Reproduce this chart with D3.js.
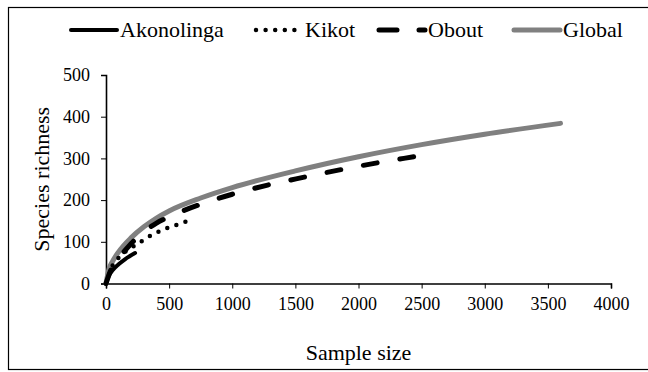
<!DOCTYPE html>
<html>
<head>
<meta charset="utf-8">
<script src="https://cdn.jsdelivr.net/npm/d3@7"></script>
<style>
  body { margin: 0; background: #fff; }
  svg text { font-family: "Liberation Serif", "Times New Roman", serif; fill: #000; }
  .axis path, .axis line { stroke: #000; }
</style>
</head>
<body>
<svg class="chart" width="648" height="372"></svg>
<script>
// values (sample size, species richness)
const akonolinga = [[0, 0], [25, 20], [50, 31], [100, 46], [150, 58], [230, 73]];
const kikot = [[0, 0], [50, 42], [100, 62], [200, 86], [264, 98], [343, 113], [422, 125], [494, 134], [581, 143], [665, 152]];
const obout = [[0, 0], [50, 40], [100, 60], [200, 96], [300, 124], [400, 145], [500, 160], [750, 190], [1000, 214],
    [1280, 236], [1570, 255], [1860, 273], [2160, 290], [2460, 305], [2560, 310]];
const global = [[0, 0], [25, 36], [50, 52], [100, 76], [200, 110], [300, 136], [400, 157], [500, 174], [750, 205],
    [1000, 230], [1500, 270], [2000, 304], [2500, 333], [3000, 358], [3600, 384]];

const seriesNames = ['Akonolinga', 'Kikot', 'Obout', 'Global'];
const xTicks = [0, 500, 1000, 1500, 2000, 2500, 3000, 3500, 4000];
const yTicks = [0, 100, 200, 300, 400, 500];

function makeChart() {
    var svg = d3.select('.chart');

    // outer frame
    svg.append('rect')
        .attr('x', 8.5).attr('y', 7.5)
        .attr('width', 645).attr('height', 362)
        .attr('fill', 'none').attr('stroke', '#000').attr('stroke-width', 1.2);

    var x = d3.scaleLinear().domain([0, 4000]).range([106, 611]);
    var y = d3.scaleLinear().domain([0, 500]).range([283.5, 75]);

    var xAxis = svg.append('g')
        .attr('class', 'axis')
        .attr('transform', 'translate(0,' + y(0) + ')')
        .call(d3.axisBottom(x).tickValues(xTicks).tickSize(5).tickSizeOuter(5).tickPadding(9).tickFormat(d3.format('d')));
    xAxis.selectAll('text').style('font-size', '18px');
    xAxis.select('.domain').attr('stroke-width', 1.6);

    var yAxis = svg.append('g')
        .attr('class', 'axis')
        .attr('transform', 'translate(' + x(0) + ',0)')
        .call(d3.axisLeft(y).tickValues(yTicks).tickSize(5).tickSizeOuter(5).tickPadding(11));
    yAxis.selectAll('text').style('font-size', '18px');
    yAxis.select('.domain').attr('stroke-width', 1.6);

    svg.append('text')
        .attr('transform', 'translate(49,' + ((y(0) + y(500)) / 2) + ') rotate(-90)')
        .attr('text-anchor', 'middle')
        .style('font-size', '22px')
        .text('Species richness');

    svg.append('text')
        .attr('x', (x(0) + x(4000)) / 2)
        .attr('y', 360)
        .attr('text-anchor', 'middle')
        .style('font-size', '22px')
        .text('Sample size');

    var styles = {
        Akonolinga: { color: '#000', width: 4, dash: null },
        Kikot: { color: '#000', width: 4.5, dash: '0,9.6' },
        Obout: { color: '#000', width: 5, dash: '14,23' },
        Global: { color: '#808080', width: 5, dash: null }
    };
    var data = { Akonolinga: akonolinga, Kikot: kikot, Obout: obout, Global: global };

    var line = d3.line()
        .x(d => x(d[0]))
        .y(d => y(d[1]))
        .curve(d3.curveMonotoneX);

    // global first so the black curves sit on top
    ['Global', 'Obout', 'Kikot', 'Akonolinga'].forEach(function (name) {
        var s = styles[name];
        svg.append('path')
            .datum(data[name])
            .attr('d', line)
            .attr('fill', 'none')
            .attr('stroke', s.color)
            .attr('stroke-width', s.width)
            .attr('stroke-linecap', 'round')
            .attr('stroke-dasharray', s.dash);
    });

    // legend
    var legendX = { Akonolinga: 69, Kikot: 254, Obout: 377, Global: 512 };
    var legend = svg.append('g');
    seriesNames.forEach(function (name) {
        var s = styles[name];
        var lx = legendX[name];
        legend.append('line')
            .attr('x1', lx + 2).attr('x2', lx + 48)
            .attr('y1', 30).attr('y2', 30)
            .attr('stroke', s.color)
            .attr('stroke-width', s.width)
            .attr('stroke-linecap', 'round')
            .attr('stroke-dasharray', name === 'Obout' ? '18,22' : s.dash);
        legend.append('text')
            .attr('x', lx + 51)
            .attr('y', 37)
            .style('font-size', '22px')
            .text(name);
    });
}

makeChart();
</script>
</body>
</html>
